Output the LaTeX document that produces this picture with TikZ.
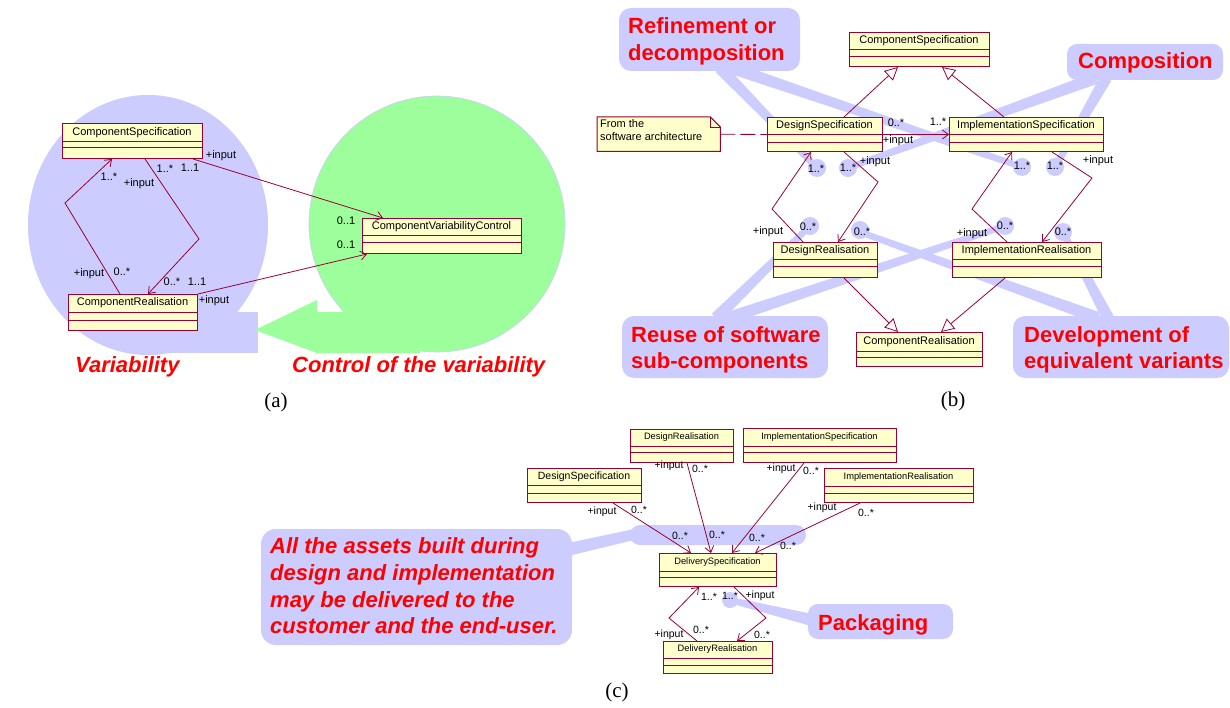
\documentclass[tikz,border=0pt]{standalone}
\usepackage{fontspec}
\setmainfont{Liberation Sans}
\newfontfamily\capfont{Liberation Serif}
\usetikzlibrary{arrows.meta,calc}

\definecolor{bub}{RGB}{204,204,255}
\definecolor{grn}{RGB}{156,255,156}
\definecolor{umlred}{RGB}{153,0,51}
\definecolor{umlfill}{RGB}{255,255,204}
\definecolor{callred}{RGB}{255,0,0}

\tikzset{
  umlbox/.style={draw=umlred, fill=umlfill, line width=1pt, inner sep=0pt, anchor=north west},
  umlname/.style={font=\fontsize{11}{13}\selectfont, inner sep=0pt},
  mult/.style={font=\fontsize{11}{13}\selectfont, inner sep=0pt},
  assoc/.style={draw=umlred, line width=0.8pt, -{Straight Barb[length=6pt,width=9pt]}},
  gener/.style={draw=umlred, line width=0.8pt, -{Triangle[length=13pt,width=13pt,fill=white]}},
  calltext/.style={font=\fontsize{22}{26}\selectfont\bfseries, text=callred, inner sep=0pt, anchor=base west},
  callital/.style={calltext, font=\fontsize{22}{26}\selectfont\bfseries\itshape},
  captext/.style={font=\capfont\fontsize{21}{24}\selectfont, inner sep=0pt},
}

% class box: name, x1, y1, x2, y2, first divider, second divider, class name
\newcommand\umlclass[8]{%
  \node[umlbox, minimum width={#4-#2}, minimum height={#5-#3}] (#1) at (#2,#3) {};
  \draw[umlred, line width=1pt] (#2,#6) -- (#4,#6) (#2,#7) -- (#4,#7);
  \node[umlname] (#1-name) at ({(#2+#4)/2},{(#3+#6)/2}) {#8};
}
% tapered callout pointer: from, to, half width at start, half width at end
\newcommand\pointer[4]{%
  \fill[bub] ($(#1)!#3!90:(#2)$) -- ($(#2)!#4!-90:(#1)$) -- ($(#2)!#4!90:(#1)$) -- ($(#1)!#3!-90:(#2)$) -- cycle;
}

\begin{document}
\begin{tikzpicture}[x=1pt,y=-1pt]
\useasboundingbox[fill=white] (0,0) rectangle (1230,708);

%% ---------------- (a) ----------------
\fill[bub] (148,225) ellipse[x radius=120pt,y radius=130pt];
\fill[bub] (150,312) rectangle (258,353);
\filldraw[fill=grn, draw=bub, line width=0.6pt] (437,224) circle[radius=128pt];
\fill[grn] (317,312) rectangle (420,353);
\fill[grn] (317,300) -- (255,330) -- (317,353) -- cycle;

\umlclass{aCS}{62}{123}{202}{158}{142}{148}{ComponentSpecification}
\umlclass{aCR}{68}{294}{197}{330}{312}{320}{ComponentRealisation}
\umlclass{aCVC}{362}{218}{521}{253}{236}{243}{ComponentVariabilityControl}

\draw[assoc] ($(aCR.north west)+(52,0)$) -- (65,203) -- ($(aCS.south west)+(50,0)$);
\draw[assoc] ($(aCS.south west)+(83,0)$) -- (199,239) -- ($(aCR.north west)+(80,0)$);
\draw[assoc] ($(aCS.south east)+(-10,0)$) -- ($(aCVC.north west)+(21,0)$);
\draw[assoc] (aCR.north east) -- ($(aCVC.south west)+(5,0)$);

\node[mult] (a1) at (109,177) {1..*};
\node[mult] (a2) at (139,184) {+input};
\node[mult] (a3) at (165,169) {1..*};
\node[mult] (a4) at (190,168) {1..1};
\node[mult] (a5) at (221,156) {+input};
\node[mult] (a6) at (89,274) {+input};
\node[mult] (a7) at (122,272) {0..*};
\node[mult] (a8) at (172,282) {0..*};
\node[mult] (a9) at (197,282) {1..1};
\node[mult] (a10) at (214,301) {+input};
\node[mult] (a11) at (346,221) {0..1};
\node[mult] (a12) at (346,245) {0..1};

\node[callital] (varlab) at (75,372) {Variability};
\node[callital] (ctrllab) at (292,372) {Control of the variability};
\node[captext] (capa) at (276,402) {(a)};

%% ---------------- (b) ----------------
\fill[bub, rounded corners=12pt] (619,8) rectangle (800,71);
\pointer{720,68}{817,168}{6pt}{3pt}
\pointer{732,68}{1022,167}{6pt}{3pt}
\fill[bub, rounded corners=10pt] (1067,44) rectangle (1223,80);
\pointer{1096,78}{848,168}{6pt}{3pt}
\pointer{1106,78}{1055,167}{6pt}{3pt}
\fill[bub, rounded corners=12pt] (622,316) rectangle (828,378);
\pointer{716,318}{810,226}{6pt}{3pt}
\pointer{728,318}{1005,226}{6pt}{3pt}
\fill[bub, rounded corners=12pt] (1013,316) rectangle (1229,378);
\pointer{1108,318}{1063,232}{6pt}{3pt}
\pointer{1098,318}{860,232}{6pt}{3pt}
\foreach \p in {(817,168),(848,168),(1022,167),(1055,167),(810,226),(860,230),(1005,226),(1063,232)}
  \fill[bub] \p circle[radius=9pt];

\node[calltext] (refl1) at (628,34) {Refinement or};
\node[calltext] (refl2) at (628,61) {decomposition};
\node[calltext] (compl) at (1078,69) {Composition};
\node[calltext] (reul1) at (631,342) {Reuse of software};
\node[calltext] (reul2) at (631,368) {sub-components};
\node[calltext] (devl1) at (1024,342) {Development of};
\node[calltext] (devl2) at (1024,368) {equivalent variants};

\umlclass{bCS}{849}{32}{989}{66}{50}{57}{ComponentSpecification}
\umlclass{bDS}{767}{117}{882}{151}{135}{143}{DesignSpecification}
\umlclass{bIS}{949}{117}{1103}{151}{135}{143}{ImplementationSpecification}
\umlclass{bDR}{773}{242}{877}{277}{260}{267}{DesignRealisation}
\umlclass{bIR}{952}{242}{1101}{277}{260}{267}{ImplementationRealisation}
\umlclass{bCR}{856}{332}{982}{366}{351}{357}{ComponentRealisation}

% note with folded corner
\node[inner sep=0pt, minimum width=123pt, minimum height=34pt, anchor=north west] (note) at (597,117) {};
\filldraw[fill=umlfill, draw=umlred, line width=1pt]
  (note.north west) -- ($(note.north east)+(-10,0)$) -- ($(note.north east)+(0,10)$)
  -- (note.south east) -- (note.south west) -- cycle;
\draw[umlred, line width=0.8pt] ($(note.north east)+(-10,0)$) |- ($(note.north east)+(0,10)$);
\node[mult, anchor=base west] (notel1) at (600,128) {From the};
\node[mult, anchor=base west] (notel2) at (600,141) {software architecture};
\draw[umlred, line width=0.9pt, dash pattern=on 15pt off 5pt] (note.east) -- (bDS.west);

\draw[gener] ($(bDS.north west)+(77,0)$) -- ($(bCS.south west)+(49,0)$);
\draw[gener] ($(bIS.north west)+(55,0)$) -- ($(bCS.south west)+(93,0)$);
\draw[gener] ($(bDR.south west)+(71,0)$) -- ($(bCR.north west)+(42,0)$);
\draw[gener] ($(bIR.south west)+(53,0)$) -- ($(bCR.north west)+(85,0)$);
\draw[assoc] (bDS.east) -- (bIS.west);
\draw[assoc] ($(bDR.north west)+(30,0)$) -- (772,209) -- ($(bDS.south west)+(44,0)$);
\draw[assoc] ($(bDS.south west)+(77,0)$) -- (878,182) -- ($(bDR.north west)+(65,0)$);
\draw[assoc] ($(bIR.north west)+(55,0)$) -- (972,209) -- ($(bIS.south west)+(63,0)$);
\draw[assoc] ($(bIS.south west)+(103,0)$) -- (1092,178) -- ($(bIR.north west)+(90,0)$);

\node[mult] (b1) at (896,123) {0..*};
\node[mult] (b2) at (898,141) {+input};
\node[mult] (b3) at (938,122) {1..*};
\node[mult] (b4) at (816,169) {1..*};
\node[mult] (b5) at (848,168) {1..*};
\node[mult] (b6) at (875,162) {+input};
\node[mult] (b7) at (768,232) {+input};
\node[mult] (b8) at (808,227) {0..*};
\node[mult] (b9) at (862,232) {0..*};
\node[mult] (b10) at (1022,166) {1..*};
\node[mult] (b11) at (1055,166) {1..*};
\node[mult] (b12) at (1098,161) {+input};
\node[mult] (b13) at (972,234) {+input};
\node[mult] (b14) at (1005,226) {0..*};
\node[mult] (b15) at (1063,232) {0..*};

\node[captext] (capb) at (953,401) {(b)};

%% ---------------- (c) ----------------
\fill[bub, rounded corners=15pt] (261,529) rectangle (572,645);
\fill[bub] (568,543) -- (634,529) -- (634,540) -- (568,556) -- cycle;
\fill[bub, rounded corners=10pt] (630,525) rectangle (806,545);
\fill[bub, rounded corners=10pt] (808,604) rectangle (953,639);
\pointer{812,620}{730,600}{6pt}{3pt}
\fill[bub] (730,600) circle[radius=8pt];

\node[callital] (alll1) at (270,553) {All the assets built during};
\node[callital] (alll2) at (270,580) {design and implementation};
\node[callital] (alll3) at (270,607) {may be delivered to the};
\node[callital] (alll4) at (270,633) {customer and the end-user.};
\node[calltext] (packl) at (818,630) {Packaging};

\begin{scope}[umlname/.style={font=\fontsize{9.3}{11}\selectfont, inner sep=0pt},
              mult/.style={font=\fontsize{10.5}{12}\selectfont, inner sep=0pt}]
\umlclass{cDR}{630}{429}{733}{462}{446}{452}{DesignRealisation}
\umlclass{cDS}{527}{468}{641}{502}{485}{493}{{\fontsize{10.5}{12}\selectfont DesignSpecification}}
\umlclass{cIS}{743}{428}{896}{462}{446}{452}{ImplementationSpecification}
\umlclass{cIR}{824}{468}{973}{502}{486}{493}{ImplementationRealisation}
\umlclass{cDelS}{659}{553}{776}{586}{571}{577}{DeliverySpecification}
\umlclass{cDelR}{663}{641}{772}{673}{658}{665}{DeliveryRealisation}

\draw[assoc] ($(cDS.south west)+(86,0)$) -- ($(cDelS.north west)+(32,0)$);
\draw[assoc] ($(cDR.south west)+(57,0)$) -- ($(cDelS.north west)+(52,0)$);
\draw[assoc] ($(cIS.south west)+(61,0)$) -- ($(cDelS.north west)+(73,0)$);
\draw[assoc] ($(cIR.south west)+(36,0)$) -- ($(cDelS.north west)+(96,0)$);
\draw[assoc] ($(cDelR.north west)+(34,0)$) -- (669,618) -- ($(cDelS.south west)+(40,0)$);
\draw[assoc] ($(cDelS.south west)+(75,0)$) -- (766,618) -- ($(cDelR.north west)+(74,0)$);

\node[mult] (c1) at (669,466) {+input};
\node[mult] (c2) at (700,469) {0..*};
\node[mult] (c3) at (602,512) {+input};
\node[mult] (c4) at (639,510) {0..*};
\node[mult] (c5) at (680,536) {0..*};
\node[mult] (c6) at (717,535) {0..*};
\node[mult] (c7) at (757,538) {0..*};
\node[mult] (c8) at (781,469) {+input};
\node[mult] (c9) at (811,471) {0..*};
\node[mult] (c10) at (822,508) {+input};
\node[mult] (c11) at (866,513) {0..*};
\node[mult] (c12) at (788,546) {0..*};
\node[mult] (c13) at (709,597) {1..*};
\node[mult] (c14) at (730,596) {1..*};
\node[mult] (c15) at (760,596) {+input};
\node[mult] (c16) at (669,635) {+input};
\node[mult] (c17) at (701,630) {0..*};
\node[mult] (c18) at (762,635) {0..*};
\end{scope}

\node[captext] (capc) at (617,692) {(c)};
\end{tikzpicture}
\end{document}
